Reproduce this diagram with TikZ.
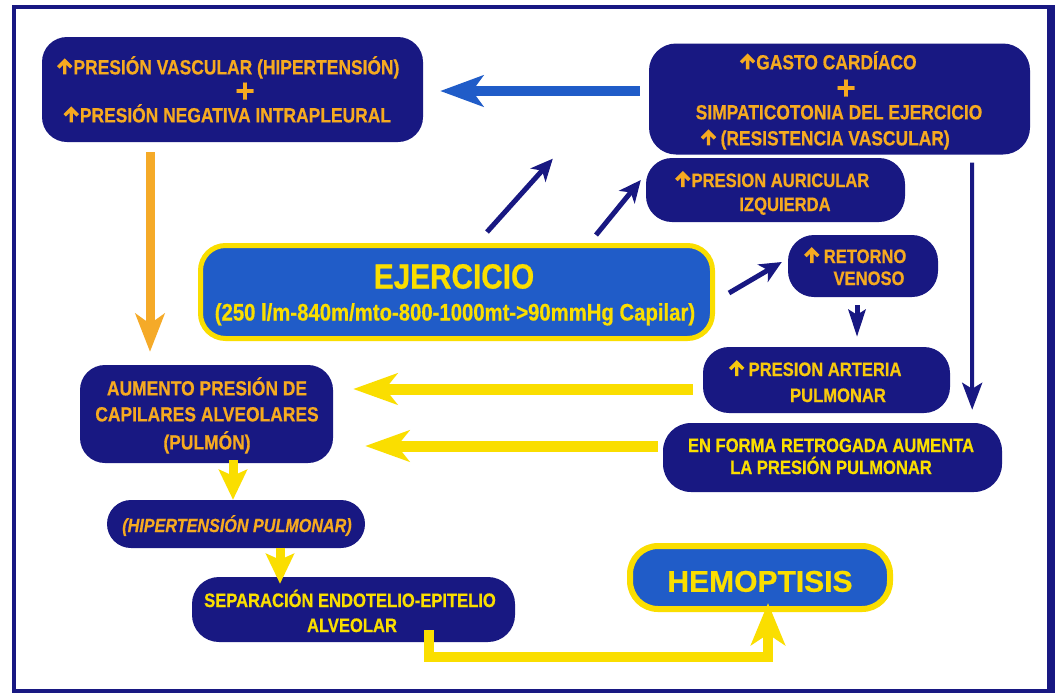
\documentclass[tikz,border=0pt]{standalone}
\usepackage{fontspec}
\newfontfamily\cf{Liberation Sans}[FakeStretch=0.85,FakeBold=0.6]
\newfontfamily\hf{Liberation Sans}[FakeBold=0.6]
\usetikzlibrary{arrows.meta}
\definecolor{navy}{RGB}{24,24,130}
\definecolor{gold}{RGB}{246,170,32}
\definecolor{yel}{RGB}{250,222,0}
\definecolor{ejblue}{RGB}{32,92,200}
\definecolor{orng}{RGB}{245,170,40}
\newcommand\uarr{\tikz[baseline=0pt,x=1pt,y=1pt,line width=3.4pt,line join=miter,line cap=butt]
  \draw (0,0) -- (0,13) (-6.5,7) -- (0,13.5) -- (6.5,7);\hspace{0.5pt}}
\tikzset{
  box/.style={fill=navy, inner sep=0pt},
  hbox/.style={fill=ejblue, draw=yel, inner sep=0pt},
  tx/.style={text=gold, inner sep=0pt, text depth=0pt, text height=14pt,
    font=\cf\bfseries\fontsize{19.5}{20}\selectfont},
  tA/.style={tx, text height=14.7pt, font=\cf\bfseries\fontsize{20.5}{21}\selectfont},
  ty/.style={tx, text=yel},
  plus/.style={text=gold, inner sep=0pt, text height=10pt, text depth=0pt,
    font=\hf\bfseries\fontsize{33}{33}\selectfont},
  navyarr/.style={draw=navy, line width=5pt, -{Stealth[length=22pt,width=20pt,inset=6pt]}},
  yelarr/.style={draw=yel, line width=11pt, -{Stealth[length=44pt,width=31pt,inset=12pt]}},
  ydown/.style={draw=yel, line width=9pt, -{Stealth[length=30pt,width=28pt,inset=6pt]}},
}
\begin{document}
\begin{tikzpicture}[x=1pt,y=-1pt]
\useasboundingbox (0,0) rectangle (1056,694);
\fill[white] (0,0) rectangle (1056,694);
\draw[navy,line width=4pt] (14,7) rectangle (1051,691);
\draw[navy,line width=8pt] (1051,5) -- (1051,693);

% boxes
\node[box, rounded corners=25pt, minimum width=381pt, minimum height=105pt] (A) at (232.5,89.5) {};
\node[box, rounded corners=27pt, minimum width=381pt, minimum height=111pt] (B) at (839.5,99) {};
\node[box, rounded corners=26pt, minimum width=259pt, minimum height=64pt] (aur) at (775.5,190) {};
\node[box, rounded corners=26pt, minimum width=150pt, minimum height=62pt] (ret) at (863,266) {};
\node[box, rounded corners=26pt, minimum width=247pt, minimum height=66pt] (art) at (826.5,380) {};
\node[box, rounded corners=28pt, minimum width=339pt, minimum height=69pt] (enf) at (832.5,457.5) {};
\node[hbox, line width=5pt, rounded corners=25pt, minimum width=512pt, minimum height=93pt] (ej) at (456.5,292) {};
\node[box, rounded corners=25pt, minimum width=253pt, minimum height=98pt] (aum) at (206.5,414) {};
\node[box, rounded corners=24pt, minimum width=258pt, minimum height=48pt] (hip) at (236,524) {};
\node[box, rounded corners=27pt, minimum width=323pt, minimum height=65pt] (sep) at (353.5,609.5) {};
\node[hbox, line width=6pt, rounded corners=28pt, minimum width=260pt, minimum height=63pt] (hem) at (760,577.5) {};

% texts
\node[tA] (a1) at (228,67) {\uarr PRESIÓN VASCULAR (HIPERTENSIÓN)};
\node[plus] (a2) at (245,97) {+};
\node[tA] (a3) at (227,115) {\uarr PRESIÓN NEGATIVA INTRAPLEURAL};
\node[tA] (b1) at (828,62) {\uarr GASTO CARDÍACO};
\node[plus] (b2) at (846,94) {+};
\node[tA] (b3) at (839,112) {SIMPATICOTONIA DEL EJERCICIO};
\node[tA] (b4) at (825,138) {\uarr\,(RESISTENCIA VASCULAR)};
\node[tx] (c1) at (772,180) {\uarr PRESION AURICULAR};
\node[tx] (c2) at (785,204) {IZQUIERDA};
\node[tx] (d1) at (855,256) {\uarr\,RETORNO};
\node[tx] (d2) at (869,278) {VENOSO};
\node[tx, text=yel!60!gold] (e1) at (815,369) {\uarr\,PRESION ARTERIA};
\node[tx, text=yel!60!gold] (e2) at (838,395) {PULMONAR};
\node[ty] (f1) at (831,445) {EN FORMA RETROGADA AUMENTA};
\node[ty] (f2) at (831,467) {LA PRESIÓN PULMONAR};
\node[ty, text height=25pt, font=\cf\bfseries\fontsize{35}{36}\selectfont] (g1) at (454,276) {EJERCICIO};
\node[ty, text height=17pt, font=\cf\bfseries\fontsize{23.9}{24}\selectfont] (g2) at (455,312) {(250 l/m-840m/mto-800-1000mt->90mmHg Capilar)};
\node[tA] (h1) at (207,388) {AUMENTO PRESIÓN DE};
\node[tA] (h2) at (207,414) {CAPILARES ALVEOLARES};
\node[tA] (h3) at (207,442) {(PULMÓN)};
\node[tx, font=\cf\bfseries\itshape\fontsize{19}{20}\selectfont] (i1) at (237,525) {(HIPERTENSIÓN PULMONAR)};
\node[ty] (j1) at (350,600) {SEPARACIÓN ENDOTELIO-EPITELIO};
\node[ty] (j2) at (352,625) {ALVEOLAR};
\node[ty, text height=21.5pt, font=\hf\bfseries\fontsize{30}{31}\selectfont] (k1) at (760,581) {HEMOPTISIS};

% connectors
\draw[draw=ejblue, line width=10pt, -{Stealth[length=43pt,width=31pt,inset=11pt]}]
  ([xshift=-9pt,yshift=8pt]B.west) -- ([xshift=17pt,yshift=-1.5pt]A.east);
\draw[navyarr] ([xshift=30.5pt,yshift=11pt]ej.north) -- ([xshift=-96pt,yshift=-4pt]B.south west);
\draw[navyarr] ([xshift=139.5pt,yshift=8pt]ej.north) -- ([xshift=-5pt,yshift=10pt]aur.west);
\draw[navyarr] ([xshift=14pt,yshift=-1pt]ej.east) -- ([xshift=-6pt,yshift=4pt]ret.west);
\draw[draw=navy, line width=5pt, -{Stealth[length=27pt,width=17pt,inset=5pt]}]
  ([xshift=-6pt,yshift=-8pt]ret.south) -- ([xshift=30.5pt,yshift=10pt]art.north);
\draw[draw=navy, line width=4pt, -{Stealth[length=27pt,width=20pt,inset=6pt]}]
  ([xshift=132.5pt,yshift=-8pt]B.south) -- ([xshift=-30pt,yshift=13pt]enf.north east);
\draw[yelarr] ([xshift=-10pt,yshift=-9pt]art.west) -- ([xshift=20pt,yshift=25pt]aum.east);
\draw[yelarr] ([xshift=-5pt,yshift=11.5pt]enf.west) -- ([xshift=32pt,yshift=-32pt]aum.east);
\draw[draw=orng, line width=9pt, -{Stealth[length=38pt,width=29pt,inset=10pt]}]
  ([xshift=-82.5pt,yshift=-10pt]A.south) -- ([xshift=-56.5pt,yshift=13pt]aum.north);
\draw[ydown] ([xshift=26.5pt,yshift=3pt]aum.south) -- ([xshift=-3pt]hip.north);
\draw[ydown] ([xshift=44pt]hip.south) -- ([xshift=-73.5pt,yshift=-7pt]sep.north);
\draw[draw=yel, line width=10pt, line join=miter, -{Stealth[length=42pt,width=34pt,inset=11pt]}]
  ([xshift=75.5pt,yshift=12pt]sep.south) -- ++(0,27) -| ([xshift=8pt,yshift=9pt]hem.south);
\end{tikzpicture}
\end{document}
